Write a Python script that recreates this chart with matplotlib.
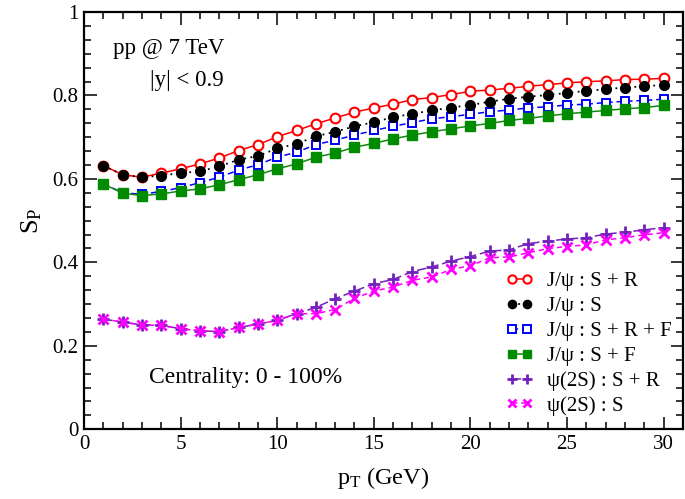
import matplotlib
matplotlib.use("Agg")
import matplotlib.pyplot as plt
from matplotlib.ticker import MultipleLocator

plt.rcParams['font.family'] = ['Liberation Serif', 'DejaVu Serif']
plt.rcParams['mathtext.fontset'] = 'custom'
plt.rcParams['mathtext.rm'] = 'Liberation Serif'
plt.rcParams['mathtext.it'] = 'Liberation Serif:italic'

pt = list(range(1, 31))
jpsi_SR = [0.632, 0.610, 0.604, 0.614, 0.624, 0.636, 0.650, 0.668, 0.682, 0.701,
           0.716, 0.732, 0.746, 0.760, 0.770, 0.779, 0.790, 0.795, 0.802, 0.810,
           0.813, 0.817, 0.822, 0.826, 0.830, 0.833, 0.835, 0.838, 0.839, 0.841]
jpsi_S = [0.632, 0.610, 0.604, 0.608, 0.614, 0.618, 0.630, 0.646, 0.655, 0.673,
          0.684, 0.702, 0.713, 0.726, 0.736, 0.748, 0.756, 0.764, 0.771, 0.777,
          0.785, 0.792, 0.797, 0.801, 0.806, 0.811, 0.815, 0.819, 0.822, 0.825]
jpsi_SRF = [0.588, 0.567, 0.563, 0.570, 0.579, 0.591, 0.604, 0.621, 0.634, 0.652,
            0.664, 0.682, 0.693, 0.705, 0.716, 0.726, 0.735, 0.744, 0.749, 0.755,
            0.761, 0.765, 0.770, 0.773, 0.777, 0.779, 0.783, 0.786, 0.788, 0.791]
jpsi_SF = [0.588, 0.566, 0.560, 0.564, 0.571, 0.576, 0.586, 0.598, 0.610, 0.624,
           0.636, 0.652, 0.662, 0.676, 0.685, 0.696, 0.705, 0.713, 0.720, 0.727,
           0.733, 0.740, 0.745, 0.751, 0.756, 0.760, 0.764, 0.768, 0.771, 0.776]
psi2S_SR = [0.264, 0.257, 0.250, 0.249, 0.241, 0.236, 0.234, 0.244, 0.252, 0.261,
            0.277, 0.292, 0.313, 0.331, 0.349, 0.359, 0.378, 0.389, 0.403, 0.414,
            0.427, 0.430, 0.445, 0.451, 0.456, 0.459, 0.468, 0.472, 0.478, 0.483]
psi2S_S = [0.264, 0.257, 0.250, 0.249, 0.241, 0.236, 0.234, 0.244, 0.252, 0.261,
           0.277, 0.277, 0.287, 0.314, 0.331, 0.341, 0.357, 0.365, 0.383, 0.392,
           0.411, 0.413, 0.423, 0.433, 0.438, 0.442, 0.454, 0.459, 0.466, 0.471]

labels = ['J/ψ : S + R', 'J/ψ : S', 'J/ψ : S + R + F', 'J/ψ : S + F',
          'ψ(2S) : S + R', 'ψ(2S) : S']

fig = plt.figure(figsize=(6.85, 4.99), dpi=100)
ax = fig.add_axes([0.1226, 0.1397, 0.8744, 0.8363])

lw = 1.1
ax.plot(pt, jpsi_SR, color='#ff0000', ls='-', lw=lw, marker='o', ms=7,
        mfc='white', mec='#ff0000', mew=1.5, label=labels[0], zorder=3)
ax.plot(pt, jpsi_S, color='black', ls=(0, (1, 2.5)), lw=1.3, marker='o', ms=7,
        mfc='black', mec='black', label=labels[1], zorder=4)
ax.plot(pt, jpsi_SRF, color='#0000ff', ls=(0, (4, 2.5)), lw=lw, marker='s', ms=6,
        mfc='white', mec='#0000ff', mew=1.4, label=labels[2], zorder=3)
ax.plot(pt, jpsi_SF, color='#118811', ls='-', lw=lw, marker='s', ms=6.5,
        mfc='#008b00', mec='#008b00', label=labels[3], zorder=3)
ax.plot(pt, psi2S_SR, color='#7221bc', ls=(0, (6, 2.5)), lw=lw, marker='+', ms=8.5,
        mew=2, mec='#7221bc', label=labels[4], zorder=3)
ax.plot(pt, psi2S_S, color='#ff00ff', ls=(0, (3.5, 2.5)), lw=lw, marker='x', ms=6.5,
        mew=2, mec='#ff00ff', label=labels[5], zorder=3)

ax.set_xlim(0, 31)
ax.set_ylim(0, 1)
ax.xaxis.set_major_locator(MultipleLocator(5))
ax.xaxis.set_minor_locator(MultipleLocator(1))
ax.yaxis.set_major_locator(MultipleLocator(0.2))
ax.yaxis.set_minor_locator(MultipleLocator(0.2 / 6))
ax.set_xticks([0, 5, 10, 15, 20, 25, 30])
ax.set_xticklabels(['0', '5', '10', '15', '20', '25', '30'])
ax.set_yticks([0, 0.2, 0.4, 0.6, 0.8, 1.0])
ax.set_yticklabels(['0', '0.2', '0.4', '0.6', '0.8', '1'])
ax.tick_params(which='both', direction='in', top=True, right=True, labelsize=15,
               width=1.1, colors='black')
ax.tick_params(which='major', length=9, pad=4)
ax.tick_params(which='minor', length=5)
for s in ax.spines.values():
    s.set_linewidth(1.6)

ax.set_xlabel(r'$\mathregular{p_T}$ (GeV)', fontsize=17.5, labelpad=8)
ax.set_ylabel(r'$\mathregular{S_P}$', fontsize=19, labelpad=6)

ax.text(0.048, 0.912, 'pp @ 7 TeV', transform=ax.transAxes, fontsize=16.5,
        ha='left', va='center')
ax.text(0.110, 0.836, '|y| < 0.9', transform=ax.transAxes, fontsize=16.5,
        ha='left', va='center')
ax.text(0.108, 0.123, 'Centrality: 0 - 100%', transform=ax.transAxes, fontsize=17,
        ha='left', va='center')

leg = ax.legend(loc='lower right', bbox_to_anchor=(1.0, 0.005), frameon=False,
                fontsize=15, numpoints=2, handlelength=1.3, handletextpad=0.67,
                labelspacing=0.25, borderaxespad=0.15, markerscale=0.85)

fig.savefig('out.png', dpi=100)
